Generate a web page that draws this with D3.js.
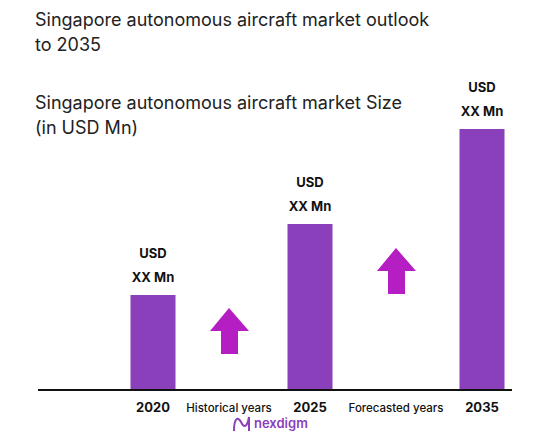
<!DOCTYPE html>
<html><head><meta charset="utf-8">
<script src="https://cdn.jsdelivr.net/npm/d3@7"></script>
<style>body{margin:0;background:#fff}svg{font-family:Inter,"Open Sans",sans-serif}</style>
</head><body><svg id="c" width="533" height="442"></svg>
<script>
const slots = ["2020", "Historical years", "2025", "Forecasted years", "2035"];
const years = ["2020", "2025", "2035"];
const values = [95, 166, 261];
const barLabels = ["USD", "XX Mn"];
const arrowSlots = ["Historical years", "Forecasted years"];
const arrowTops = [308, 248];

const svg = d3.select("#c");
const x = d3.scaleOrdinal().domain(slots).range([153, 229, 310, 396, 482]);
const y = d3.scaleLinear().domain([0, 261]).range([390, 129]);
const bw = 45;

svg.append("text").attr("x", 35).attr("y", 26).attr("font-size", 18).attr("fill", "#222").text("Singapore autonomous aircraft market outlook");
svg.append("text").attr("x", 35).attr("y", 51).attr("font-size", 18).attr("fill", "#222").text("to 2035");
svg.append("text").attr("x", 35).attr("y", 109).attr("font-size", 18).attr("fill", "#222").text("Singapore autonomous aircraft market Size");
svg.append("text").attr("x", 35).attr("y", 134).attr("font-size", 18).attr("fill", "#222").text("(in USD Mn)");

svg.selectAll("rect.bar").data(years).join("rect").attr("class", "bar")
  .attr("x", d => x(d) - bw / 2).attr("width", bw)
  .attr("y", (d, i) => y(values[i])).attr("height", (d, i) => y(0) - y(values[i]))
  .attr("fill", "#8a3fbb");

years.forEach((d, i) => {
  barLabels.forEach((t, j) => {
    svg.append("text").attr("x", x(d)).attr("y", y(values[i]) - 37 + j * 24)
      .attr("text-anchor", "middle").attr("font-size", 13).attr("font-weight", "bold").attr("fill", "#111").text(t);
  });
});

svg.append("line").attr("x1", 38).attr("x2", 512).attr("y1", 390).attr("y2", 390).attr("stroke", "#111").attr("stroke-width", 2);

svg.selectAll("text.tick").data(slots).join("text").attr("class", "tick")
  .attr("x", d => x(d)).attr("y", 412).attr("text-anchor", "middle")
  .attr("font-size", d => d.length > 4 ? 11.5 : 13).attr("font-weight", d => d.length > 4 ? 500 : "bold")
  .attr("fill", "#111").text(d => d);

arrowSlots.forEach((s, i) => {
  const cx = x(s), t = arrowTops[i];
  svg.append("path").attr("fill", "#b51ec2")
    .attr("d", `M${cx},${t} L${cx + 20},${t + 23} L${cx + 9},${t + 23} L${cx + 9},${t + 46} L${cx - 8},${t + 46} L${cx - 8},${t + 23} L${cx - 19},${t + 23} Z`);
});

svg.append("path").attr("d", "M234,431 C234,418 238,416 241,422 C244,428 247,428 249,417 L249,431")
  .attr("fill", "none").attr("stroke", "#8a3fbb").attr("stroke-width", 2);
svg.append("text").attr("x", 254).attr("y", 428).attr("font-size", 13).attr("font-weight", 600).attr("fill", "#8a3fbb").text("nexdigm");
</script></body></html>
